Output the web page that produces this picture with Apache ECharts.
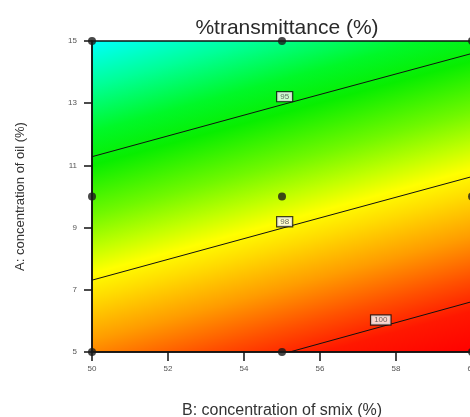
<!DOCTYPE html>
<html>
<head>
<meta charset="utf-8">
<script src="https://cdn.jsdelivr.net/npm/echarts@6/dist/echarts.min.js"></script>
<style>
  html, body { margin: 0; padding: 0; background: #fff; }
  #chart { width: 470px; height: 417px; }
</style>
</head>
<body>
<div id="chart"></div>
<script>
// design points (B: smix %, A: oil %)
var designPoints = [
  [50, 15], [55, 15], [60, 15],
  [50, 10], [55, 10], [60, 10],
  [50, 5], [55, 5], [60, 5]
];

// contour lines
var contour95 = [[50, 11.28], [55, 12.95], [60, 14.6]];
var contour98 = [[50, 7.31], [55, 8.98], [60, 10.64]];
var contour100 = [[55.2, 5], [60, 6.62]];

// contour labels [x, y, text]
var contourLabels = [
  [55.07, 13.21, '95'],
  [55.07, 9.19, '98'],
  [57.6, 6.03, '100']
];

var xTicks = { min: 50, max: 60, interval: 2 };
var yTicks = { min: 5, max: 15, interval: 2 };

var chartDom = document.getElementById('chart');
var myChart = echarts.init(chartDom);
var option;

function contourSeries(data) {
  return {
    type: 'line',
    data: data,
    symbol: 'none',
    silent: true,
    lineStyle: { color: '#111', width: 1 },
    z: 3
  };
}

option = {
  animation: false,
  title: {
    text: '%transmittance (%)',
    left: 282,
    textAlign: 'center',
    top: 13,
    textStyle: {
      fontFamily: 'Arial, Liberation Sans',
      fontSize: 21,
      fontWeight: 'normal',
      color: '#2a2a2a'
    }
  },
  grid: {
    left: 92,
    top: 41,
    right: -2,
    bottom: 65,
    containLabel: false,
    outerBoundsMode: 'none',
    show: true,
    borderColor: '#111',
    borderWidth: 1.5,
    backgroundColor: {
      type: 'linear',
      x: 0, y: 0, x2: 0.278, y2: 1.241,
      colorStops: [
        { offset: 0, color: '#00ffff' },
        { offset: 0.11, color: '#00ff98' },
        { offset: 0.22, color: '#00f828' },
        { offset: 0.3, color: '#08ee00' },
        { offset: 0.42, color: '#70f800' },
        { offset: 0.5, color: '#c0ff00' },
        { offset: 0.56, color: '#ffff00' },
        { offset: 0.62, color: '#ffdc00' },
        { offset: 0.72, color: '#ff9c00' },
        { offset: 0.82, color: '#ff5000' },
        { offset: 0.9, color: '#ff1800' },
        { offset: 1, color: '#ff0000' }
      ]
    }
  },
  xAxis: {
    type: 'value',
    min: xTicks.min,
    max: xTicks.max,
    interval: xTicks.interval,
    name: 'B: concentration of smix (%)',
    nameLocation: 'middle',
    nameGap: 51,
    nameTextStyle: { fontFamily: 'Arial, Liberation Sans', fontSize: 16, color: '#333' },
    axisLine: { show: true, lineStyle: { color: '#111', width: 1.5 } },
    axisTick: { show: true, length: 9, lineStyle: { color: '#111', width: 1.5 } },
    axisLabel: { margin: 13, fontSize: 8, color: '#555', fontFamily: 'Arial, Liberation Sans' },
    splitLine: { show: false }
  },
  yAxis: {
    type: 'value',
    min: yTicks.min,
    max: yTicks.max,
    interval: yTicks.interval,
    name: 'A: concentration of oil (%)',
    nameLocation: 'middle',
    nameGap: 65,
    nameTextStyle: { fontFamily: 'Arial, Liberation Sans', fontSize: 13, color: '#333' },
    axisLine: { show: true, lineStyle: { color: '#111', width: 1.5 } },
    axisTick: { show: true, length: 8, lineStyle: { color: '#111', width: 1.5 } },
    axisLabel: { margin: 15, fontSize: 8, color: '#555', fontFamily: 'Arial, Liberation Sans' },
    splitLine: { show: false }
  },
  series: [
    contourSeries(contour95),
    contourSeries(contour98),
    contourSeries(contour100),
    {
      type: 'scatter',
      data: designPoints,
      symbol: 'circle',
      symbolSize: 8,
      itemStyle: { color: '#1a1a1a' },
      clip: false,
      z: 5
    },
    {
      type: 'scatter',
      data: contourLabels,
      symbolSize: 0,
      z: 6,
      label: {
        show: true,
        position: 'inside',
        formatter: function (p) { return p.value[2]; },
        fontSize: 8,
        color: '#444',
        fontFamily: 'Arial, Liberation Sans',
        backgroundColor: '#fff',
        borderColor: '#111',
        borderWidth: 1.2,
        padding: [1, 3, 0, 3]
      }
    }
  ]
};

option && myChart.setOption(option);
</script>
</body>
</html>
